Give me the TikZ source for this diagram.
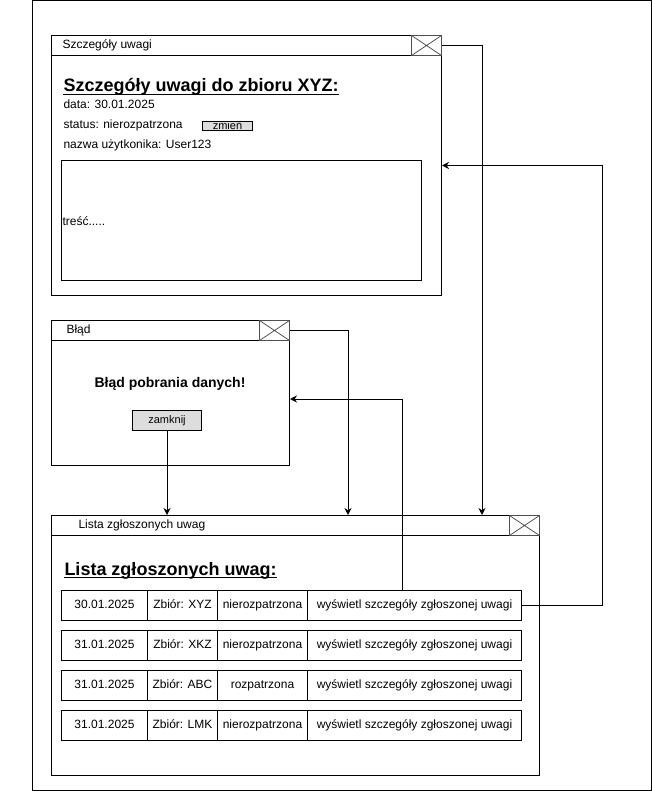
\documentclass[tikz,border=0pt]{standalone}
\usepackage{fontspec}
\setmainfont{Liberation Sans}
\usetikzlibrary{arrows.meta,calc}
\definecolor{btnfill}{RGB}{221,221,221}
\definecolor{xgray}{RGB}{80,80,80}
\newcommand{\setpx}[1]{\fontsize{#1}{#1}\selectfont}

\begin{document}
\begin{tikzpicture}[x=1pt,y=-1pt,line width=1pt,
  win/.style={draw, anchor=north west, inner sep=0pt},
  titlebar/.style={draw, anchor=north west, inner sep=0pt, minimum height=20pt},
  closebox/.style={draw=xgray, anchor=north west, inner sep=0pt,
    minimum width=30pt, minimum height=20pt,
    path picture={\draw[xgray, line width=0.8pt]
      (path picture bounding box.north west) -- (path picture bounding box.south east)
      (path picture bounding box.south west) -- (path picture bounding box.north east);}},
  label/.style={inner sep=0pt, anchor=base west, font=\setpx{12}},
  heading/.style={inner sep=0pt, anchor=base west, font=\setpx{18}\bfseries},
  button/.style={draw, fill=btnfill, inner sep=0pt, anchor=north west},
  cell/.style={draw, inner sep=0pt, anchor=north west, minimum height=30pt,
    text height=9pt, text depth=2.5pt, font=\setpx{12}},
  arr/.style={-{Stealth[length=7pt,width=7pt]}, line width=1pt}
]
\useasboundingbox (0,0) rectangle (652,791);

% outer frame
\node[draw, anchor=north west, inner sep=0pt, minimum width=619.5pt, minimum height=789.5pt] (frame) at (31.5,0.5) {};

% ---- window: Szczegóły uwagi ----
\node[win, minimum width=390pt, minimum height=260pt] (wA) at (51,35) {};
\node[titlebar, minimum width=390pt] (tA) at (51,35) {};
\node[closebox] (xA) at (411,35) {};
\node[label, anchor=west] (ttA) at (62,45) {Szczegóły uwagi};
\node[heading] (hA) at (63,92) {Szczegóły uwagi do zbioru XYZ:};
\draw[line width=1.5pt] ([yshift=-2.5pt]hA.base west) -- ([yshift=-2.5pt]hA.base east);
\node[label] (dA) at (63,108.5) {data: 30.01.2025};
\node[label] (sA) at (63,129) {status: nierozpatrzona};
\node[button, minimum width=50pt, minimum height=9pt, text height=7pt, text depth=0pt, font=\setpx{11}] (bA) at (202,121) {zmień};
\node[label] (uA) at (63,149) {nazwa użytkonika: User123};
\node[draw, anchor=north west, inner sep=0pt, minimum width=360pt, minimum height=120pt] (cA) at (61,160) {};
\node[label, anchor=west] (trA) at (62,221) {treść.....};

% ---- window: Błąd ----
\node[win, minimum width=238pt, minimum height=145pt] (wB) at (51,320) {};
\node[titlebar, minimum width=238pt] (tB) at (51,320) {};
\node[closebox] (xB) at (259,320) {};
\node[label, anchor=west] (ttB) at (66,330) {Błąd};
\node[inner sep=0pt, font=\setpx{14}\bfseries] (mB) at (170,384) {Błąd pobrania danych!};
\node[button, minimum width=69pt, minimum height=20pt, font=\setpx{11}] (bB) at (132,410) {zamknij};

% ---- window: Lista zgłoszonych uwag ----
\node[win, minimum width=488pt, minimum height=260pt] (wC) at (51,515) {};
\node[titlebar, minimum width=488pt] (tC) at (51,515) {};
\node[closebox] (xC) at (509,515) {};
\node[label, anchor=west] (ttC) at (78,525) {Lista zgłoszonych uwag};
\node[heading] (hC) at (64,575) {Lista zgłoszonych uwag:};
\draw[line width=1.5pt] ([yshift=-2.5pt]hC.base west) -- ([yshift=-2.5pt]hC.base east);

\foreach \i/\y/\d/\z/\s in {1/590/30.01.2025/XYZ/nierozpatrzona,
                            2/630/31.01.2025/XKZ/nierozpatrzona,
                            3/670/31.01.2025/ABC/rozpatrzona,
                            4/710/31.01.2025/LMK/nierozpatrzona}{
  \node[cell, minimum width=86pt]  (r\i-a) at (61,\y)  {\d};
  \node[cell, minimum width=70pt]  (r\i-b) at (147,\y) {Zbiór: \z};
  \node[cell, minimum width=90pt]  (r\i-c) at (217,\y) {\s};
  \node[cell, minimum width=214pt] (r\i-d) at (307,\y) {wyświetl szczegóły zgłoszonej uwagi};
}

% ---- connectors ----
\draw[arr] (xA.east) -| ([xshift=431pt]wC.north west);
\draw[arr] (xB.east) -| ([xshift=297pt]wC.north west);
\draw[arr] (bB.south) -- (bB.south |- wC.north);
\draw[arr] (r1-d.east) -- ++(80pt,0) |- (wA.east);
\draw[arr] ([xshift=95pt]r1-d.north west) |- ([yshift=-6pt]wB.east);
\end{tikzpicture}
\end{document}
